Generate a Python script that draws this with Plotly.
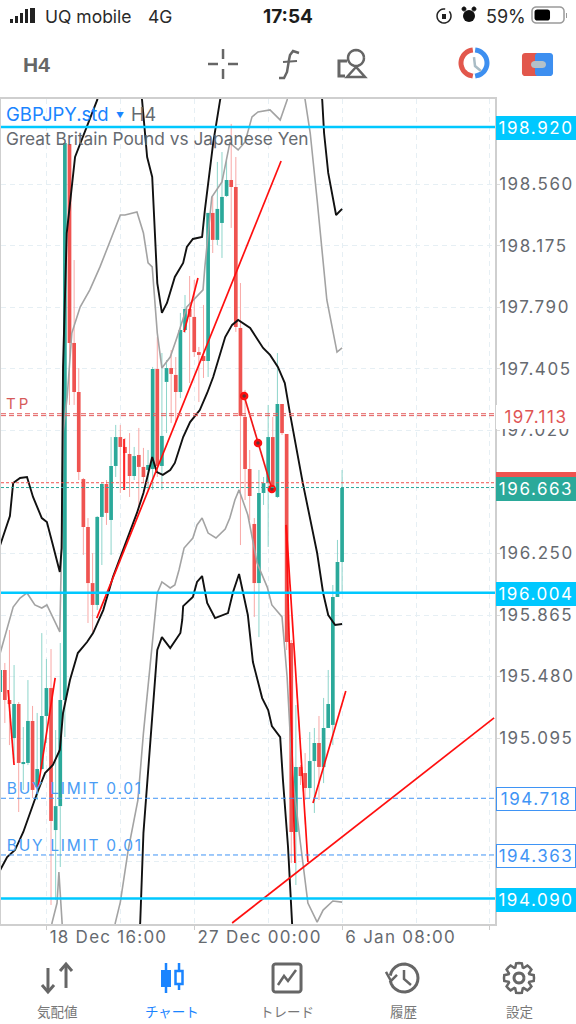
import math

import plotly.graph_objects as go

# candles, GBPJPY.std H4, oldest first
opens = [195.383, 195.521, 195.333, 195.095, 195.308, 194.932, 194.939, 195.202, 194.788, 194.901,
         195.233, 195.408, 194.519, 194.669, 195.333, 198.814, 197.568, 197.261, 196.716, 196.416,
         196.065, 195.928, 196.479, 196.685, 196.460, 196.798, 196.979, 196.917, 196.873, 196.735,
         196.867, 196.792, 196.773, 196.779, 197.405, 196.798, 197.324, 197.411, 197.368, 197.261,
         197.649, 197.781, 197.731, 197.511, 197.486, 197.455, 198.382, 198.213, 198.319, 198.488,
         198.588, 198.544, 197.662, 197.105, 196.779, 196.435, 196.065, 196.629, 196.691, 196.979,
         196.604, 197.186, 196.998, 195.690, 194.507, 194.914, 194.876, 194.782, 194.951, 195.064,
         194.914, 195.158, 195.177, 195.978, 196.197]
highs = [195.583, 195.565, 195.771, 195.552, 195.320, 195.164, 195.458, 195.296, 195.252, 195.752,
         195.590, 195.652, 195.145, 195.690, 198.820, 198.814, 198.087, 197.411, 196.723, 196.472,
         196.253, 196.485, 196.691, 196.710, 196.979, 197.055, 197.055, 196.973, 197.004, 196.917,
         197.036, 196.911, 196.898, 197.418, 197.605, 197.505, 197.461, 197.524, 197.480, 197.756,
         197.868, 197.987, 197.962, 197.543, 197.806, 198.382, 198.482, 198.701, 198.763, 198.713,
         198.939, 198.732, 197.943, 197.274, 196.898, 196.472, 196.773, 196.729, 197.180, 197.105,
         197.505, 197.186, 196.998, 195.709, 195.302, 194.926, 195.001, 195.133, 195.158, 195.233,
         195.346, 195.521, 196.053, 196.335, 196.773]
lows = [195.333, 195.189, 195.051, 194.957, 194.632, 194.770, 194.926, 194.720, 194.707, 194.895,
        195.064, 194.050, 194.081, 194.288, 195.101, 197.180, 197.180, 196.710, 196.241, 195.815,
        195.759, 195.896, 196.178, 196.429, 196.241, 196.729, 196.629, 196.648, 196.604, 196.710,
        196.535, 196.691, 196.648, 196.648, 196.729, 196.648, 197.004, 197.067, 197.073, 197.223,
        197.630, 197.317, 197.480, 197.198, 197.349, 197.355, 198.131, 198.181, 198.100, 198.482,
        198.288, 197.637, 196.303, 196.585, 196.460, 195.853, 195.727, 196.554, 196.291, 196.629,
        196.598, 196.992, 195.646, 194.313, 194.175, 194.801, 194.707, 194.720, 194.626, 194.707,
        194.813, 195.158, 195.051, 195.978, 196.009]
closes = [195.521, 195.333, 195.308, 195.308, 194.939, 194.945, 195.202, 194.770, 194.901, 195.233,
          195.408, 194.576, 194.669, 195.333, 198.820, 197.568, 197.261, 196.760, 196.416, 196.065,
          195.928, 196.479, 196.685, 196.504, 196.798, 196.979, 196.917, 196.879, 196.735, 196.860,
          196.792, 196.729, 196.804, 197.405, 196.798, 196.986, 197.411, 197.374, 197.261, 197.649,
          197.781, 197.731, 197.511, 197.493, 197.455, 198.382, 198.213, 198.407, 198.482, 198.588,
          198.544, 197.668, 197.111, 196.779, 196.610, 196.065, 196.629, 196.691, 196.979, 196.648,
          197.186, 197.004, 195.696, 194.507, 194.914, 194.857, 194.782, 194.951, 195.064, 194.914,
          195.158, 195.308, 195.978, 196.197, 196.660]

# bollinger bands: black = wide set, gray = narrow set
black_upper_x = [0, 2.1, 2.8, 4.3, 5.8, 7.1, 9.0, 10.1, 11.4, 12.9, 13.3, 13.4, 13.6, 14.4, 16.2, 21.0, 23.8,
                 29.2, 30.7, 31.8, 32.9, 34.0, 35.0, 36.1, 36.8, 37.8, 39.6, 40.4, 41.7, 43.7, 44.3, 46.1, 47.6,
                 50.8, 67.1, 69.7, 70.1, 71.0, 72.7, 74]
black_upper_y = [196.303, 196.485, 196.691, 196.723, 196.729, 196.604, 196.472, 196.447, 196.303, 196.134,
                 196.284, 196.798, 197.418, 198.256, 198.732, 199.089, 199.465, 199.465, 199.089, 198.732,
                 198.607, 197.943, 197.756, 197.818, 197.881, 197.981, 198.069, 198.169, 198.219, 198.231,
                 198.400, 198.820, 199.089, 199.465, 199.465, 199.089, 198.882, 198.632, 198.369, 198.407]
black_mid_x = [0, 1.5, 3.2, 5.0, 8.0, 9.7, 11.4, 12.9, 13.6, 15.1, 16.8, 18.8, 20.1, 22.3, 24.4, 26.6, 29.6,
               31.0, 32.9, 33.9, 35.2, 36.8, 37.8, 39.6, 41.1, 43.2, 44.8, 46.1, 48.7, 50.2, 51.5, 54.1, 56.9,
               58.4, 60.1, 61.6, 62.7, 65.5, 67.1, 68.6, 69.9, 71.0, 72.5, 74]
black_mid_y = [194.269, 194.350, 194.394, 194.507, 194.751, 194.876, 194.926, 195.020, 195.252, 195.458,
               195.627, 195.696, 195.752, 195.896, 196.103, 196.272, 196.504, 196.629, 196.854, 196.760,
               196.742, 196.773, 196.817, 196.979, 197.073, 197.148, 197.255, 197.355, 197.605, 197.681,
               197.712, 197.662, 197.537, 197.493, 197.418, 197.317, 197.130, 196.691, 196.460, 196.253,
               196.003, 195.865, 195.803, 195.809]
black_lower_x = [29.2, 30.3, 31.0, 34.0, 35.0, 36.8, 39.0, 39.4, 39.6, 41.7, 42.6, 43.7, 44.8, 46.5, 49.3, 50.4,
                 51.7, 53.6, 54.7, 56.7, 58.0, 58.8, 60.6, 61.2, 62.3, 63.2, 63.6]
black_lower_y = [193.705, 193.937, 194.500, 195.646, 195.727, 195.658, 195.753, 195.834, 195.921, 195.978,
                 196.072, 196.109, 195.940, 195.846, 195.877, 196.009, 196.122, 195.865, 195.571, 195.345,
                 195.270, 195.170, 195.101, 194.832, 194.413, 193.937, 193.705]
gray_upper_x = [0, 1.5, 2.8, 4.3, 5.8, 7.5, 9.0, 10.1, 11.4, 12.9, 13.4, 13.6, 14.5, 15.5, 17.3, 19.4, 21.6, 23.8,
                26.0, 27.0, 28.5, 29.6, 31.0, 32.0, 32.9, 34.0, 35.0, 36.8, 38.3, 40.4, 43.9, 44.3, 45.8, 48.0,
                49.7, 51.5, 53.0, 54.5, 55.8, 58.4, 60.6, 62.1, 63.2, 64.9, 66.0, 67.1, 68.6, 70.7, 72.9, 74]
gray_upper_y = [195.627, 195.790, 195.915, 195.971, 196.003, 195.928, 195.909, 195.928, 195.853, 195.759,
                196.460, 197.004, 197.230, 197.630, 197.793, 197.900, 198.044, 198.213, 198.369, 198.369,
                198.381, 198.388, 198.256, 198.069, 198.044, 197.630, 197.411, 197.480, 197.605, 197.793,
                197.900, 198.044, 198.482, 198.576, 198.820, 198.776, 198.826, 198.983, 199.014, 199.027,
                198.964, 199.089, 199.339, 199.339, 199.089, 198.882, 198.463, 197.837, 197.511, 197.537]
gray_lower_x = [10.8, 11.2, 12.3, 12.7, 13.4, 13.6, None,
                24.2, 24.9, 26.0, 27.7, 29.8, 31.0, 34.0, 35.0, 36.8, 37.8, 38.7, 39.8, 41.7, 42.6, 43.7, 45.0,
                46.7, 48.7, 49.7, 50.8, 51.7, 53.6, 55.6, 57.8, 58.8, 61.0, 62.1, 63.2, 64.9, 66.6, 68.6, 69.9,
                72.0, 74]
gray_lower_y = [193.705, 193.937, 194.062, 194.256, 193.937, 193.705, None,
                193.705, 193.937, 194.068, 194.394, 194.707, 195.126, 196.003, 196.072, 196.034, 196.053,
                196.147, 196.284, 196.347, 196.429, 196.472, 196.378, 196.347, 196.403, 196.472, 196.585,
                196.648, 196.491, 196.191, 196.040, 195.928, 195.853, 195.477, 194.876, 194.457, 194.062,
                193.943, 194.018, 194.075, 194.068]

# hand drawn trend lines
trend_x = [20.9, 60.8, None, 1.7, 3.0, None, 8.2, 11.9, None, 26.8, 26.8, None, 39.8, 42.8, None,
           61.9, 66.6, None, 61.9, 63.8, None, 67.7, 74.8, None, 50.2, 106.9]
trend_y = [195.846, 198.707, None, 195.396, 194.926, None, 194.788, 195.471, None, 196.967, 196.648, None,
           197.637, 197.975, None, 196.429, 194.319, None, 196.429, 194.313, None, 194.688, 195.389, None,
           193.937, 195.221]
zigzag_x = [52.8, 55.8, 58.8]
zigzag_y = [197.236, 196.942, 196.654]

# price levels
hlines = [198.920, 196.004, 194.090]
tp_levels = [197.125, 197.113]
ask_price = 196.693
bid_price = 196.663
buy_limits = [194.718, 194.363]

# 196.635 and 194.710 sit fully behind the price boxes in the app, so they are left out
y_ticks = [198.560, 198.175, 197.790, 197.405, 197.020, 196.250, 195.865, 195.480, 195.095, 194.325]
x_ticks = [10, 42, 74, 106]
x_minor = [26, 58, 90]
x_labels = ["18 Dec 16:00", "27 Dec 00:00", "6 Jan 08:00", ""]

nav_labels = ["気配値", "チャート", "トレード", "履歴", "設定"]

GREEN = "#2ba99a"
RED = "#ef5350"
CYAN = "#00c8ff"
BLUE = "#1a84ff"
LIMIT = "#3f94f5"
GRAY = "#666a70"
ICON = "#666666"
GRID = "#e6eff4"
FONT = "Inter"
W, H = 576, 1024

# the app spaces its chart text out, plotly fonts have no setting for that
SPACING_JS = """
document.body.style.margin = '0';
document.querySelectorAll('.ytick text').forEach(t => t.style.letterSpacing = '1.55px');
document.querySelectorAll('.xtick text').forEach(t => {
  t.style.letterSpacing = '1.25px';
  t.setAttribute('x', +t.getAttribute('x') + 2);
});
document.querySelectorAll('.annotation-text').forEach(t => {
  if (/^\\d{3}\\.\\d{3}$/.test(t.textContent)) t.style.letterSpacing = '1.55px';
  if (t.textContent.startsWith('BUY')) t.style.letterSpacing = '1.75px';
  if (t.textContent === 'TP') t.style.letterSpacing = '3px';
});
"""


def px(x):
    return x / W


def py(y):
    return 1 - y / H


def poly(points, color=ICON, width=2.5, fill=None, close=False):
    path = "M " + " L ".join(f"{px(x):.4f} {py(y):.4f}" for x, y in points)
    if close:
        path += " Z"
    return dict(type="path", xref="paper", yref="paper", path=path, fillcolor=fill or "rgba(0,0,0,0)",
                line=dict(color=color, width=width) if width else dict(width=0))


def arc(cx, cy, r, start, end, steps=24):
    return [(cx + r * math.cos(math.radians(start + (end - start) * i / steps)),
             cy + r * math.sin(math.radians(start + (end - start) * i / steps))) for i in range(steps + 1)]


def rrect(x0, y0, x1, y1, r, color=ICON, width=2.5, fill=None):
    pts = (arc(x0 + r, y0 + r, r, 180, 270, 5) + arc(x1 - r, y0 + r, r, 270, 360, 5)
           + arc(x1 - r, y1 - r, r, 0, 90, 5) + arc(x0 + r, y1 - r, r, 90, 180, 5))
    return poly(pts, color, width, fill, close=True)


def bar(x0, y0, x1, y1, color="#222"):
    return dict(type="rect", xref="paper", yref="paper", x0=px(x0), x1=px(x1), y0=py(y1), y1=py(y0),
                fillcolor=color, line_width=0)


def text(x, y, s, size=17, color=GRAY, family=FONT, anchor="left"):
    return dict(xref="paper", yref="paper", x=px(x), y=py(y), text=s, showarrow=False, xanchor=anchor,
                yanchor="middle", font=dict(family=family, size=size, color=color))


def price_label(price, s, bg, fg, border=None):
    return dict(xref="paper", yref="y", x=px(496), y=price, yshift=-1, text=s, showarrow=False, xanchor="left",
                yanchor="middle", width=78, height=22, align="center", bgcolor=bg, borderpad=0,
                bordercolor=border or bg, borderwidth=1, font=dict(family=FONT, size=17, color=fg))


fig = go.Figure()

up = [i for i in range(len(opens)) if closes[i] >= opens[i]]
down = [i for i in range(len(opens)) if closes[i] < opens[i]]
for idx, color in ((up, GREEN), (down, RED)):
    fig.add_trace(go.Bar(x=idx, y=[abs(closes[i] - opens[i]) for i in idx], base=[min(opens[i], closes[i]) for i in idx],
                         width=0.8, marker=dict(color=color, line=dict(width=0)), hoverinfo="skip"))

# wicks go either side of the body so they do not wash it out
for idx, color in ((up, "#8ed5cb"), (down, "#f8a8a6")):
    wx, wy = [], []
    for i in idx:
        wx += [i, i, None, i, i, None]
        wy += [highs[i], max(opens[i], closes[i]), None, min(opens[i], closes[i]), lows[i], None]
    fig.add_trace(go.Scatter(x=wx, y=wy, mode="lines", line=dict(color=color, width=1), hoverinfo="skip"))

for bx, by, color, lw in ((gray_upper_x, gray_upper_y, "#a3a3a3", 1.6), (gray_lower_x, gray_lower_y, "#a3a3a3", 1.6),
                          (black_upper_x, black_upper_y, "#111111", 1.9), (black_mid_x, black_mid_y, "#111111", 1.9),
                          (black_lower_x, black_lower_y, "#111111", 1.9)):
    fig.add_trace(go.Scatter(x=bx, y=by, mode="lines", line=dict(color=color, width=lw), hoverinfo="skip"))

fig.add_trace(go.Scatter(x=trend_x, y=trend_y, mode="lines", line=dict(color="#ff0f0f", width=1.7), hoverinfo="skip"))
fig.add_trace(go.Scatter(x=zigzag_x, y=zigzag_y, mode="lines+markers", line=dict(color="#f01818", width=1.7),
                         marker=dict(size=6, color="#663338", line=dict(color="#ff0f0f", width=2.5)), hoverinfo="skip"))

for level in hlines:
    fig.add_hline(y=level, line=dict(color=CYAN, width=2.5))
for level in tp_levels:
    fig.add_hline(y=level, line=dict(color="#e35d5d", width=1, dash="5px,3px"))
fig.add_hline(y=ask_price, line=dict(color=RED, width=1, dash="3px,2px"))
fig.add_hline(y=bid_price, line=dict(color=GREEN, width=1, dash="3px,2px"))
for level in buy_limits:
    fig.add_hline(y=level, line=dict(color=LIMIT, width=1, dash="5px,3px"))

shapes = [
    # status bar
    bar(10, 19, 13, 23), bar(15, 16, 18, 23), bar(20, 13, 23, 23), bar(25, 9, 28, 23), bar(30, 8, 35, 23),
    poly(arc(444, 16, 7, -40, 280), "#222", 1.5),
    bar(442, 14, 446, 19),
    dict(type="circle", xref="paper", yref="paper", x0=px(463), x1=px(475), y0=py(22), y1=py(10), fillcolor="#111", line_width=0),
    poly(arc(464, 9, 2, 0, 360, 10), "#111", 1, "#111"),
    poly(arc(474, 9, 2, 0, 360, 10), "#111", 1, "#111"),
    rrect(532, 7, 564, 23, 4, "#9a9a9a", 1.5, "white"),
    rrect(534.5, 9.5, 550, 20.5, 2.5, "#000", 0, "#000"),
    bar(566, 13, 567, 18, "#9a9a9a"),
    # toolbar: crosshair
    poly([(208, 64), (218, 64)]), poly([(228, 64), (238, 64)]),
    poly([(223, 49), (223, 59)]), poly([(223, 69), (223, 79)]),
    # toolbar: objects icon
    poly(arc(356, 58, 8, 0, 360)),
    poly([(356, 67), (347, 77), (365, 77)], close=True),
    poly([(347, 61), (339, 61), (339, 76), (345, 76)], width=3),
    # toolbar: function icon
    poly([(283, 62), (297, 61)], width=2),
    poly([(299, 53), (293, 51), (290, 55), (289, 60), (287, 72), (284, 78), (279, 78)], width=2.5),
    # toolbar: history / one click buttons
    poly(arc(474, 63, 13, 95, 265), "#e2574c", 5),
    poly(arc(474, 63, 13, -85, 85), "#3d8ff0", 5),
    poly([(474, 57), (475, 66), (481, 71)], "#a9bcc6", 2.5),
    rrect(522, 53, 540, 76, 3, "#e2574c", 0, "#e2574c"),
    rrect(535, 53, 553, 76, 3, "#3d8ff0", 0, "#3d8ff0"),
    bar(537, 53, 540, 76, "#3d8ff0"),
    rrect(531, 61, 546, 68, 3.5, "#b4c1c9", 0, "#b4c1c9"),
    # bottom nav: quotes arrows
    poly([(48, 968), (48, 992)], width=3), poly([(42, 985), (48, 992), (54, 985)], width=3),
    poly([(66, 964), (66, 988)], width=3), poly([(60, 971), (66, 964), (72, 971)], width=3),
    # bottom nav: chart candles
    poly([(166, 963), (166, 993)], BLUE, 2.5),
    bar(161, 970, 171, 987, BLUE),
    poly([(179, 963), (179, 990)], BLUE, 2.5),
    dict(type="rect", xref="paper", yref="paper", x0=px(175.5), x1=px(182.5), y0=py(984), y1=py(971), fillcolor="white",
         line=dict(color=BLUE, width=2.5)),
    # bottom nav: trade box
    rrect(273, 964, 301, 992, 2.5, ICON, 3),
    poly([(278, 985), (284, 976), (288, 981), (296, 970)], width=2.5),
    # bottom nav: history clock
    poly(arc(404, 978, 14, -170, 170), width=3),
    poly([(386, 972), (391, 981), (397, 975)], width=2.5),
    poly([(404, 970), (404, 979), (411, 985)], width=2.5),
    # bottom nav: settings gear
    poly(arc(519, 978, 5, 0, 360), width=3),
]
gear = []
for k in range(8):
    a = k * 45
    gear += arc(519, 978, 15, a - 11, a + 11, 2) + arc(519, 978, 11, a + 20, a + 25, 1)
shapes.append(poly(gear, width=2.5, close=True))
for shape in shapes:
    fig.add_shape(**shape)

annotations = [
    text(43, 16, "UQ mobile", 17.5, "#2a2a2a"),
    text(146, 16, "4G", 17.5, "#2a2a2a"),
    text(288, 16, "<b>17:54</b>", 19, "#1c1c1c", anchor="center"),
    text(484, 16, "59%", 18, "#2a2a2a"),
    text(21, 64, "<b>H4</b>", 21, ICON, "Liberation Sans"),
    text(4, 114, "GBPJPY.std", 18.5, BLUE),
    text(114, 115, "▼", 8, BLUE),
    text(129, 114, "H4", 18, GRAY),
    text(4, 138, "Great Britain Pound vs Japanese Yen", 17.3, GRAY),
    # centred because the spacing script grows these from their middle
    text(18, 403, "TP", 15, "#d65a5a", anchor="center"),
    text(75, 788, "BUY LIMIT 0.01", 15.5, "#4a9cf5", anchor="center"),
    text(75, 845, "BUY LIMIT 0.01", 15.5, "#4a9cf5", anchor="center"),
    price_label(hlines[0], f"{hlines[0]:.3f}", CYAN, "white"),
    price_label(hlines[1], f"{hlines[1]:.3f}", CYAN, "white"),
    price_label(hlines[2], f"{hlines[2]:.3f}", CYAN, "white"),
    price_label(tp_levels[1], f"{tp_levels[1]:.3f}", "white", "#e05555"),
    price_label(ask_price, f"{ask_price:.3f}", RED, "white"),
    price_label(bid_price, f"{bid_price:.3f}", GREEN, "white"),
    price_label(buy_limits[0], f"{buy_limits[0]:.3f}", "white", LIMIT, LIMIT),
    price_label(buy_limits[1], f"{buy_limits[1]:.3f}", "white", LIMIT, LIMIT),
]
for center, label in zip((57, 172, 287, 403, 519), nav_labels):
    annotations.append(text(center, 1011, label, 13.5, BLUE if label == "チャート" else "#777777",
                            "Noto Sans CJK JP", "center"))

fig.update_layout(
    width=W, height=H, margin=dict(l=0, r=0, t=0, b=0), paper_bgcolor="white", plot_bgcolor="white",
    showlegend=False, barmode="overlay", annotations=annotations,
    font=dict(family=FONT),
    xaxis=dict(domain=[px(1), px(495)], range=[0.17, 107.1], tickmode="array", tickvals=x_ticks, ticktext=x_labels,
               ticks="outside", ticklen=4, tickcolor="#cccccc", ticklabelposition="outside right", ticklabelstandoff=-3,
               tickfont=dict(family=FONT, size=17, color=GRAY), showgrid=True, gridcolor=GRID, griddash="5px,4px",
               minor=dict(tickvals=x_minor, showgrid=True, gridcolor=GRID, griddash="5px,4px", ticks=""),
               showline=True, mirror=True, linecolor="#cfcfcf", linewidth=1.5, zeroline=False, fixedrange=True),
    yaxis=dict(domain=[py(924), py(99)], range=[193.931, 199.095], side="right", tickmode="array", tickvals=y_ticks,
               ticktext=[f"{t:.3f}" for t in y_ticks], ticks="outside", ticklen=3, tickcolor="#dddddd", ticklabelstandoff=-4,
               tickfont=dict(family=FONT, size=17, color=GRAY), showgrid=True, gridcolor=GRID, griddash="5px,4px",
               showline=True, mirror=True, linecolor="#cfcfcf", linewidth=1.5, zeroline=False, fixedrange=True),
)

fig.write_html("out.html", config=dict(displayModeBar=False), post_script=SPACING_JS)
